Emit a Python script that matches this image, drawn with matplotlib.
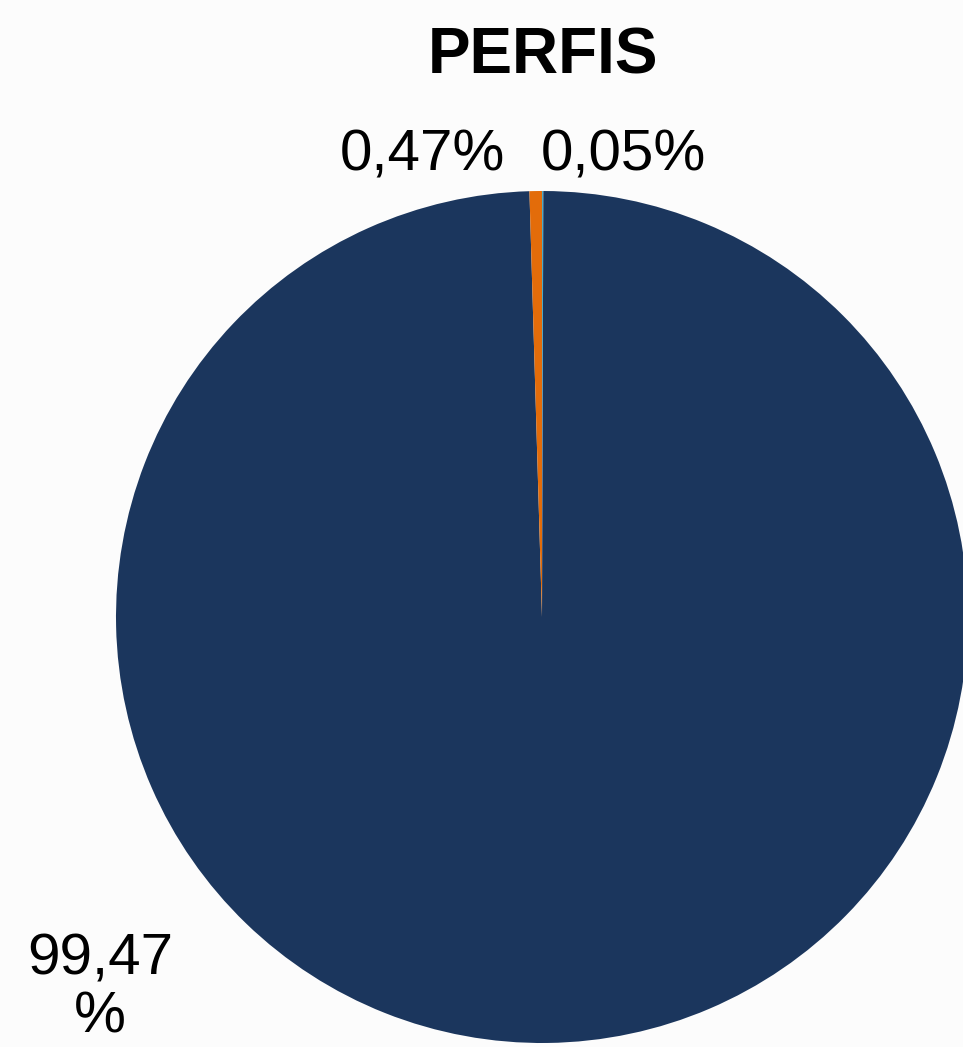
import matplotlib
matplotlib.use("Agg")
import matplotlib.pyplot as plt

categories = ["A", "B", "C"]
values = [0.05, 99.47, 0.47]
colors = ["#4bacc6", "#1b365d", "#e36c0a"]
title = "PERFIS"

W, H, DPI = 963, 1047, 100
fig = plt.figure(figsize=(W / DPI, H / DPI), dpi=DPI, facecolor="#fcfcfc")
plt.rcParams['font.family'] = ['Liberation Sans', 'DejaVu Sans']

cx, cy, r = 542, 617, 426
ax = fig.add_axes([(cx - r) / W, (H - cy - r) / H, 2 * r / W, 2 * r / H])
ax.set_facecolor("none")

def fmt(v):
    return f"{v:.2f}".replace(".", ",") + "%"

wedges, texts = ax.pie(values, colors=colors, startangle=90, counterclock=False,
                       labels=[fmt(v) for v in values], radius=1,
                       wedgeprops=dict(linewidth=0),
                       textprops=dict(fontsize=42, color="black"))
ax.set_xlim(-1, 1)
ax.set_ylim(-1, 1)
ax.set_aspect("equal")
ax.axis("off")

pos = [(0.19, 1.083), (-1.038, -0.872), (-0.28, 1.083)]
for t, p, v in zip(texts, pos, values):
    t.set_position(p)
    t.set_ha("center")
    t.set_va("center")
    if v > 50:
        t.set_text(f"{v:.2f}".replace(".", ",") + "\n%")
        t.set_linespacing(1.08)

fig.text(543 / W, 1 - 57 / H, title, ha="center", va="center",
         fontsize=46, fontweight="bold")

fig.savefig("out.png", dpi=DPI, facecolor=fig.get_facecolor())
